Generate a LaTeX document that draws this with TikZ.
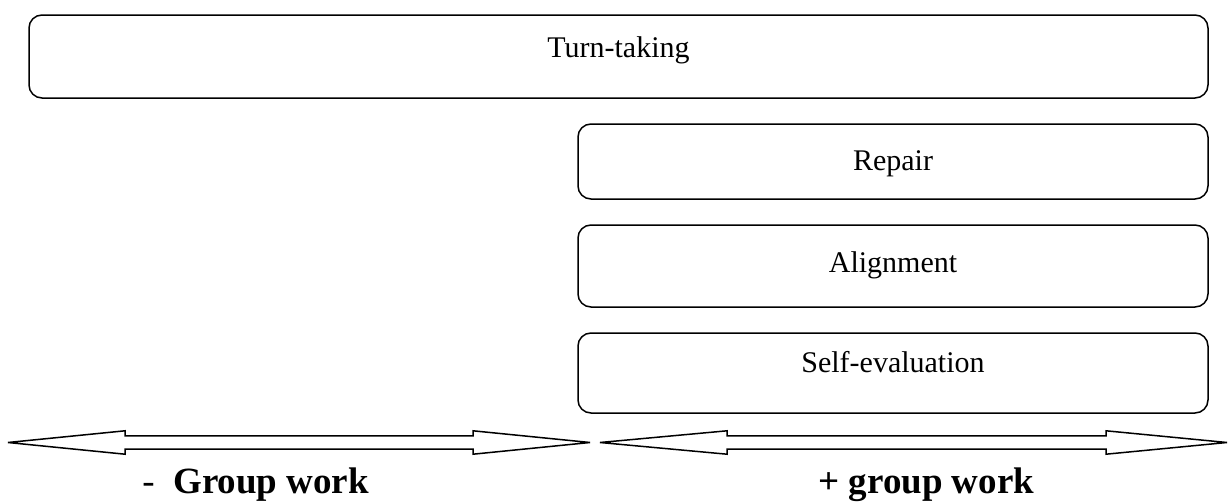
\documentclass[tikz,border=0pt]{standalone}
\usepackage{fontspec}
\setmainfont{Liberation Serif}
\begin{document}
\begin{tikzpicture}[x=0.5pt, y=-0.5pt, line width=0.75pt,
	box/.style={draw, rounded corners=6.5pt, inner sep=0pt},
	boxtext/.style={anchor=base, font=\fontsize{15}{18}\selectfont},
	pole/.style={anchor=base west, font=\fontsize{18.5}{22}\selectfont},
	bigarrow/.style={draw, line join=miter}]
\useasboundingbox (0,0) rectangle (1228,503);
\node[box, minimum width=589.5pt, minimum height=41.5pt] (turn) at (618.5,56.5) {};
\node[box, minimum width=315pt, minimum height=37.5pt] (repair) at (893,161.5) {};
\node[box, minimum width=315pt, minimum height=41pt] (align) at (893,266) {};
\node[box, minimum width=315pt, minimum height=40pt] (selfev) at (893,373) {};
\node[boxtext] (turnlbl) at (618.5,57) {Turn-taking};
\node[boxtext] (repairlbl) at (893,170) {Repair};
\node[boxtext] (alignlbl) at (893,272) {Alignment};
\node[boxtext] (selfevlbl) at (893,372) {Self-evaluation};
% the two scales
\draw[bigarrow] (8,442.5) -- (125,430.8) -- (125,435.8) -- (473,435.8) -- (473,430.8) -- (590,442.5)
	-- (473,454.2) -- (473,449.2) -- (125,449.2) -- (125,454.2) -- cycle;
\draw[bigarrow] (600,442.5) -- (727,430.8) -- (727,435.8) -- (1106,435.8) -- (1106,430.8) -- (1227,442.5)
	-- (1106,454.2) -- (1106,449.2) -- (727,449.2) -- (727,454.2) -- cycle;
\node[pole] (less) at (135,493) {-\ \ \textbf{Group work}};
\node[pole] (more) at (811,493) {\textbf{+ group work}};
\end{tikzpicture}
\end{document}
